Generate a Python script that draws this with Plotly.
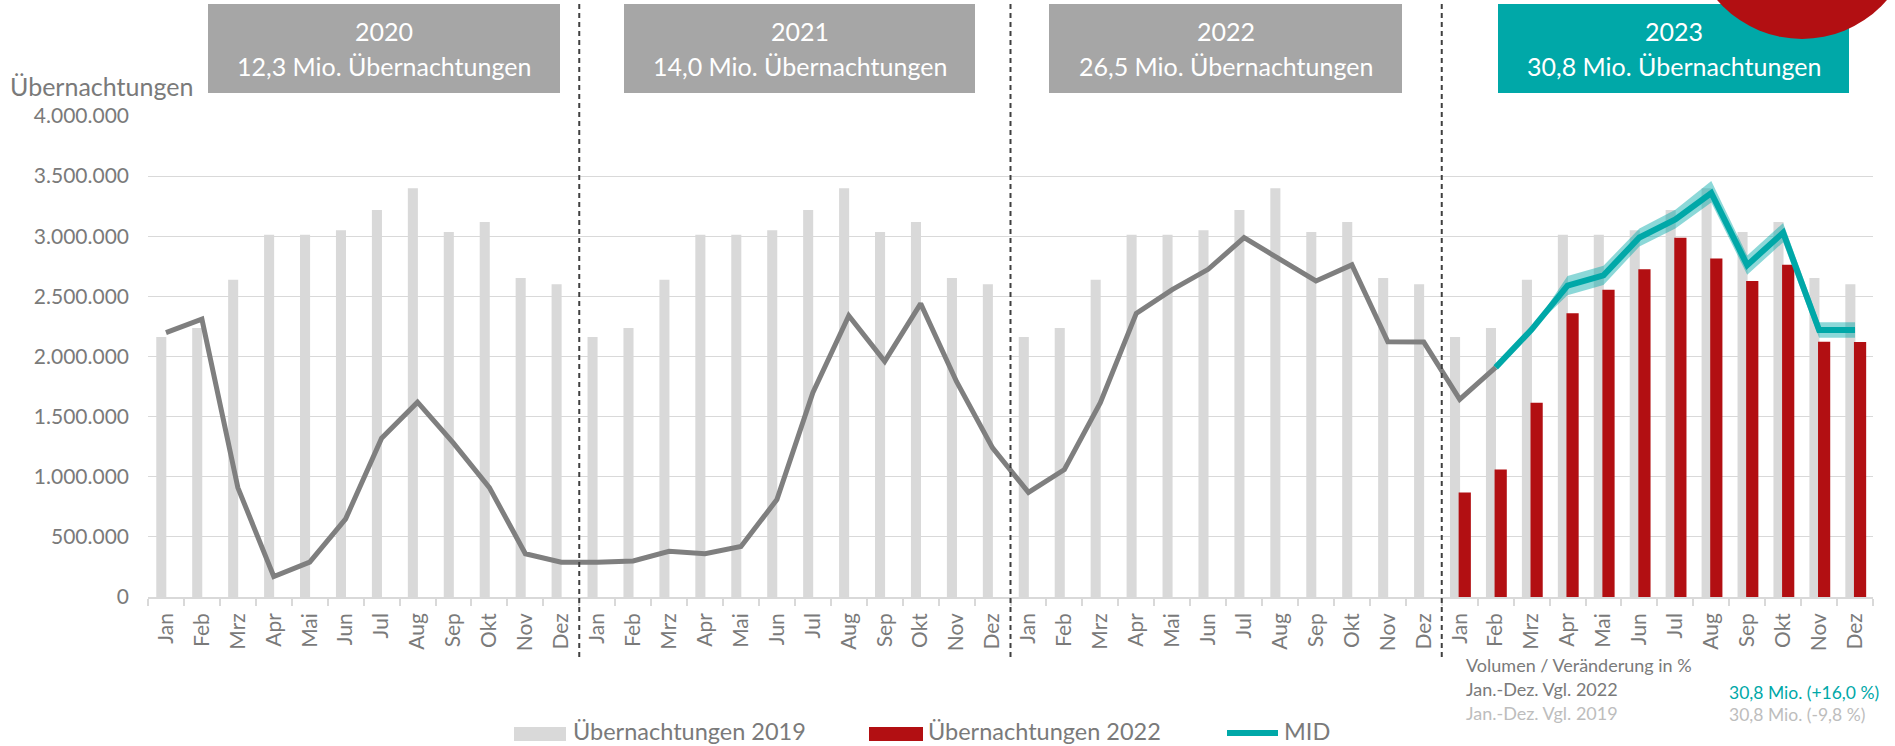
import plotly.graph_objects as go

# ---------------- data ----------------
months = ["Jan", "Feb", "Mrz", "Apr", "Mai", "Jun", "Jul", "Aug", "Sep", "Okt", "Nov", "Dez"]
years = ["2020", "2021", "2022", "2023"]
year_totals = ["12,3", "14,0", "26,5", "30,8"]

ov_2019 = [2162000, 2237000, 2638000, 3012000, 3012000, 3050000, 3218000, 3400000, 3035000, 3118000, 2652000, 2600000]
ov_2020 = [2198000, 2310000, 910000, 170000, 290000, 650000, 1320000, 1620000, 1280000, 910000, 360000, 290000]
ov_2021 = [290000, 300000, 380000, 360000, 420000, 810000, 1700000, 2340000, 1960000, 2440000, 1790000, 1240000]
ov_2022 = [870000, 1060000, 1616000, 2359000, 2556000, 2725000, 2988000, 2814000, 2628000, 2762000, 2123000, 2120000]
ov_2023 = [1644000, 1910000, 2224000, 2590000, 2675000, 2990000, 3140000, 3360000, 2760000, 3030000, 2220000, 2220000]
band_up_2023 = [0, 0, 0, 80000, 80000, 75000, 80000, 100000, 80000, 80000, 65000, 65000]
band_dn_2023 = [0, 0, 0, 80000, 80000, 75000, 75000, 80000, 80000, 80000, 65000, 65000]

vgl_label = "Volumen / Veränderung in %"
vgl_rows = ["Jan.-Dez. Vgl. 2022", "Jan.-Dez. Vgl. 2019"]
vgl_vals = ["30,8 Mio. (+16,0 %)", "30,8 Mio. (-9,8 %)"]
legend_names = ["Übernachtungen 2019", "Übernachtungen 2022", "MID"]

# ---------------- styling ----------------
W, H = 1895, 746
L, R, T, B = 148, 1873, 116, 597
FONT = "Lato"
GREY_TXT = "#7a7a7a"
LIGHT_TXT = "#bdbdbd"
BAR19 = "#d9d9d9"
RED = "#b20f12"
TEAL = "#00a8a8"
LINE_GREY = "#7f7f7f"


def px(x):
    return (x - L) / (R - L)


def py(y):
    return (B - y) / (B - T)


n_years = len(years)
x_all = list(range(12 * n_years))
tick_text = months * n_years

grey_line_vals = ov_2020 + ov_2021 + ov_2022 + ov_2023[:2]
grey_line_x = x_all[: len(grey_line_vals)]
off23 = 36
teal_x = [off23 + i for i in range(1, 12)]
teal_y = ov_2023[1:]
band_hi = [ov_2023[i] + band_up_2023[i] for i in range(1, 12)]
band_lo = [ov_2023[i] - band_dn_2023[i] for i in range(1, 12)]

fig = go.Figure()

fig.add_trace(go.Bar(x=x_all, y=ov_2019 * n_years, width=0.28, offset=-0.27,
                     marker=dict(color=BAR19, line=dict(width=0)), name=legend_names[0]))
fig.add_trace(go.Bar(x=[off23 + i for i in range(12)], y=ov_2022, width=0.34, offset=-0.03,
                     marker=dict(color=RED, line=dict(width=0)), name=legend_names[1]))
fig.add_trace(go.Scatter(x=teal_x, y=band_lo, mode="lines", line=dict(width=0, color=TEAL),
                         showlegend=False, hoverinfo="skip"))
fig.add_trace(go.Scatter(x=teal_x, y=band_hi, mode="lines", line=dict(width=0, color=TEAL),
                         fill="tonexty", fillcolor="rgba(0,168,168,0.45)",
                         showlegend=False, hoverinfo="skip"))
fig.add_trace(go.Scatter(x=grey_line_x, y=grey_line_vals, mode="lines",
                         line=dict(color=LINE_GREY, width=5), showlegend=False))
fig.add_trace(go.Scatter(x=teal_x, y=teal_y, mode="lines",
                         line=dict(color=TEAL, width=6), name=legend_names[2]))

shapes = []
annotations = []

# year separators
for k in range(1, n_years):
    shapes.append(dict(type="line", xref="x", yref="paper", x0=12 * k - 0.5, x1=12 * k - 0.5,
                       y0=py(657), y1=py(0), line=dict(color="#404040", width=2, dash="5px,4px"),
                       layer="above"))

# year header boxes
box_px = [(208, 560), (624, 975), (1049, 1402), (1498, 1849)]
box_cols = ["#a6a6a6", "#a6a6a6", "#a6a6a6", TEAL]
for (x0, x1), col, yr, tot in zip(box_px, box_cols, years, year_totals):
    shapes.append(dict(type="rect", xref="paper", yref="paper", x0=px(x0), x1=px(x1),
                       y0=py(93), y1=py(4), fillcolor=col, line=dict(width=0), layer="above"))
    cx = px((x0 + x1) / 2)
    annotations.append(dict(xref="paper", yref="paper", x=cx, y=py(31), text=yr, showarrow=False,
                            xanchor="center", yanchor="middle", font=dict(family=FONT, size=25, color="white")))
    annotations.append(dict(xref="paper", yref="paper", x=cx, y=py(66),
                            text=f"{tot} Mio. Übernachtungen", showarrow=False,
                            xanchor="center", yanchor="middle", font=dict(family=FONT, size=25, color="white")))

# red circle top-right
shapes.append(dict(type="circle", xref="paper", yref="paper", x0=px(1690), x1=px(1914),
                   y0=py(39), y1=py(-185), fillcolor=RED, line=dict(width=0), layer="above"))

# y axis title
annotations.append(dict(xref="paper", yref="paper", x=px(8), y=py(86), text="Übernachtungen",
                        showarrow=False, xanchor="left", yanchor="middle",
                        font=dict(family=FONT, size=25, color=GREY_TXT)))

# comparison texts
annotations.append(dict(xref="paper", yref="paper", x=px(1464), y=py(665), text=vgl_label,
                        showarrow=False, xanchor="left", yanchor="middle",
                        font=dict(family=FONT, size=18, color=GREY_TXT)))
for i, (lab, val, ycen, ycv) in enumerate(zip(vgl_rows, vgl_vals, [689, 713], [692, 714])):
    annotations.append(dict(xref="paper", yref="paper", x=px(1464), y=py(ycen), text=lab,
                            showarrow=False, xanchor="left", yanchor="middle",
                            font=dict(family=FONT, size=18, color=GREY_TXT if i == 0 else LIGHT_TXT)))
    annotations.append(dict(xref="paper", yref="paper", x=px(1727), y=py(ycv), text=val,
                            showarrow=False, xanchor="left", yanchor="middle",
                            font=dict(family=FONT, size=17.5, color=TEAL if i == 0 else LIGHT_TXT)))

# custom legend
leg_y = 731
shapes.append(dict(type="rect", xref="paper", yref="paper", x0=px(514), x1=px(566),
                   y0=py(741), y1=py(727), fillcolor=BAR19, line=dict(width=0)))
shapes.append(dict(type="rect", xref="paper", yref="paper", x0=px(869), x1=px(923),
                   y0=py(741), y1=py(727), fillcolor=RED, line=dict(width=0)))
shapes.append(dict(type="line", xref="paper", yref="paper", x0=px(1227), x1=px(1278),
                   y0=py(733), y1=py(733), line=dict(color=TEAL, width=6)))
for xt, name in zip([571, 926, 1282], legend_names):
    annotations.append(dict(xref="paper", yref="paper", x=px(xt), y=py(leg_y), text=name,
                            showarrow=False, xanchor="left", yanchor="middle",
                            font=dict(family=FONT, size=23.5, color=GREY_TXT)))

fig.update_layout(
    width=W, height=H,
    margin=dict(l=L, r=W - R, t=T, b=H - B, pad=0),
    paper_bgcolor="white", plot_bgcolor="white",
    barmode="overlay", showlegend=False,
    separators=",.",
    font=dict(family=FONT, color=GREY_TXT),
    shapes=shapes, annotations=annotations,
)
fig.update_xaxes(
    range=[-0.5, 12 * n_years - 0.5], tickmode="array", tickvals=x_all, ticktext=tick_text,
    tickangle=-90, ticks="", showgrid=False, zeroline=False,
    showline=True, linecolor="#d9d9d9", linewidth=1.5,
    tickfont=dict(family=FONT, size=21, color=GREY_TXT),
    minor=dict(tickmode="linear", tick0=-0.5, dtick=1, ticks="outside", ticklen=7,
               tickcolor="#d9d9d9", tickwidth=1.5),
    ticklabelstandoff=6,
)
fig.update_yaxes(
    range=[0, 4000000], tickmode="linear", tick0=0, dtick=500000, tickformat=",d",
    showgrid=True, gridcolor="#d9d9d9", gridwidth=1.2, zeroline=False, showline=False,
    ticks="", tickfont=dict(family=FONT, size=21, color=GREY_TXT), ticklabelstandoff=18,
)

fig.write_html(
    "out.html",
    config={"displayModeBar": False},
    post_script="document.body.style.margin='0';document.body.style.overflow='hidden';",
)
